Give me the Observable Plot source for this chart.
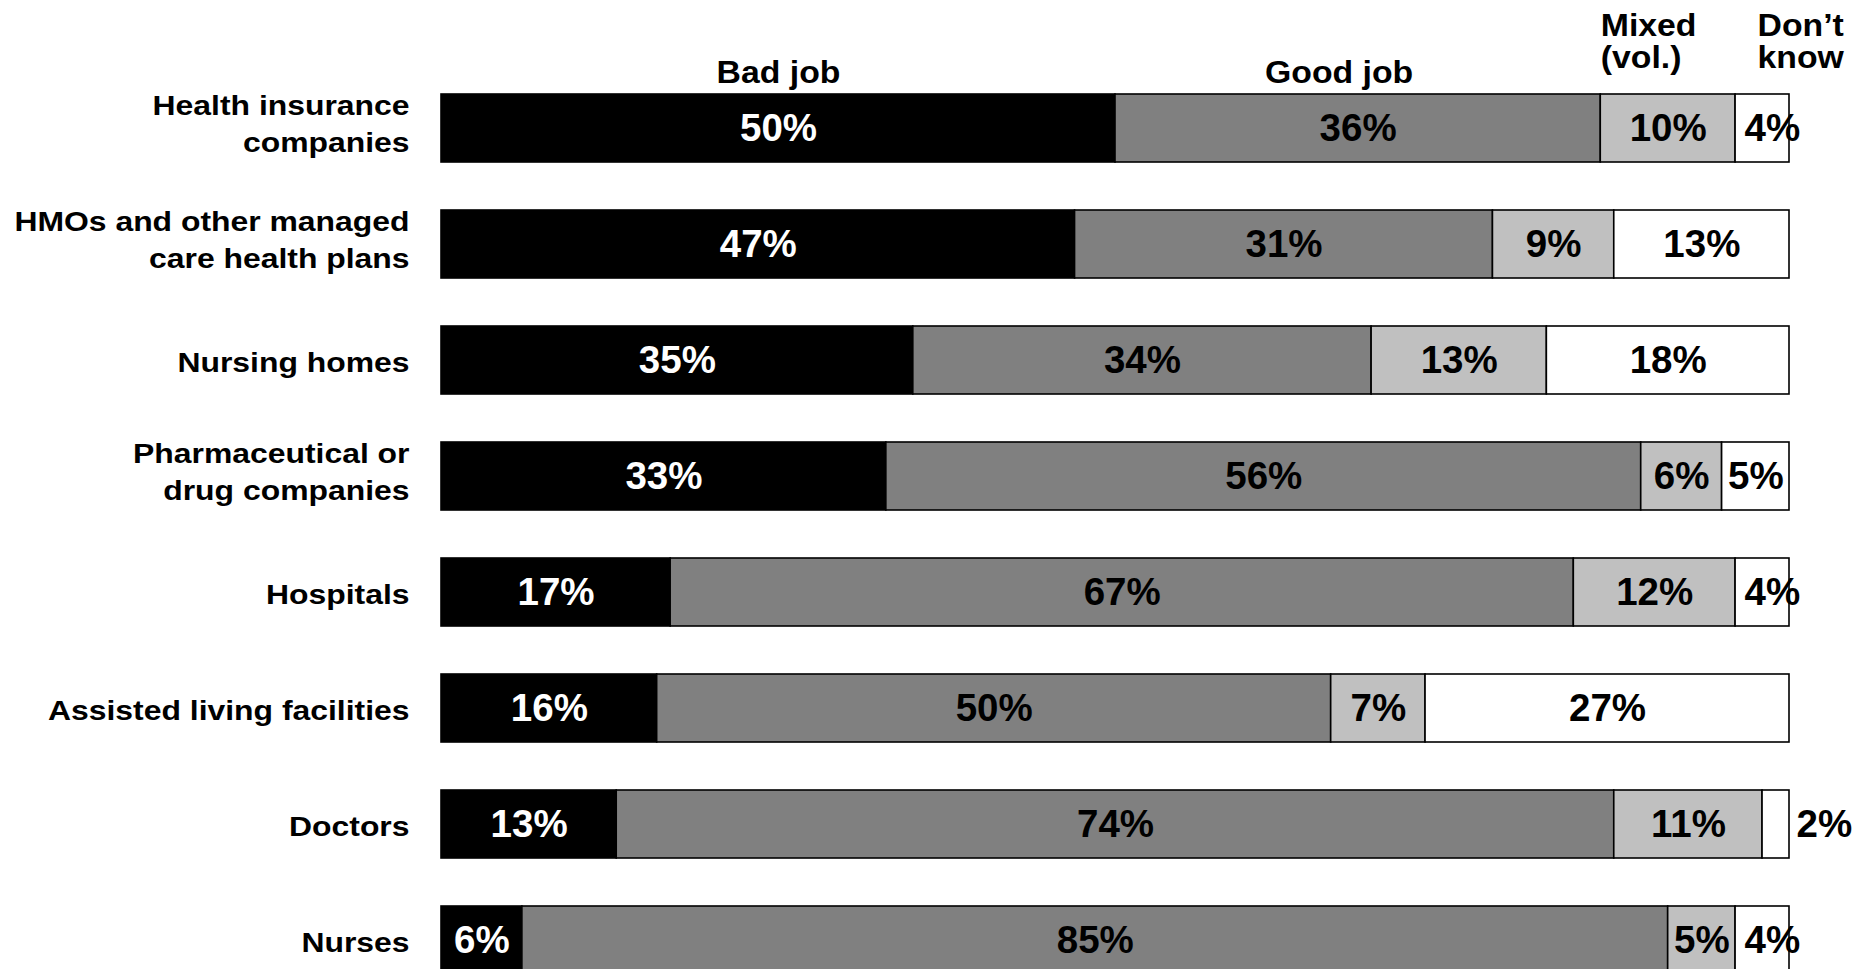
<!DOCTYPE html>
<html>
<head>
<meta charset="utf-8">
<script src="https://cdn.jsdelivr.net/npm/d3@7"></script>
<script src="https://cdn.jsdelivr.net/npm/@observablehq/plot@0.6"></script>
<style>
  html, body { margin: 0; padding: 0; background: #fff; overflow: hidden; }
  #chart svg { display: block; }
</style>
</head>
<body>
<div id="chart"></div>
<script>
// ---- data ----
const categories = [
  "Health insurance\ncompanies",
  "HMOs and other managed\ncare health plans",
  "Nursing homes",
  "Pharmaceutical or\ndrug companies",
  "Hospitals",
  "Assisted living facilities",
  "Doctors",
  "Nurses"
];
const responses = ["Bad job", "Good job", "Mixed\n(vol.)", "Don\u2019t\nknow"];
const badJob   = [50, 47, 35, 33, 17, 16, 13, 6];
const goodJob  = [36, 31, 34, 56, 67, 50, 74, 85];
const mixed    = [10,  9, 13,  6, 12,  7, 11, 5];
const dontKnow = [ 4, 13, 18,  5,  4, 27,  2, 4];
const fills = ["#000000", "#808080", "#c0c0c0", "#ffffff"];

// ---- build stacked table ----
const series = [badJob, goodJob, mixed, dontKnow];
const table = [];
categories.forEach((c, i) => {
  let acc = 0;
  series.forEach((s, j) => {
    const v = s[i];
    table.push({category: c, response: responses[j], ri: j, value: v, x1: acc, x2: acc + v});
    acc += v;
  });
});
const first = table.filter(d => d.category === categories[0]);
const centered = table.filter(d => !(d.ri === 3 && d.value < 5));
const startLabels = table.filter(d => d.ri === 3 && d.value < 5 && d.value > 2);
const outsideLabels = table.filter(d => d.ri === 3 && d.value <= 2);

const font = "'Liberation Sans', Arial, Helvetica, sans-serif";
const multi = categories.filter(c => c.includes("\n"));
const single = categories.filter(c => !c.includes("\n"));
const CAT_FS = 27.5, HEAD_FS = 31;

const chart = Plot.plot({
  width: 1870,
  height: 969,
  marginLeft: 0, marginRight: 0, marginTop: 0, marginBottom: 0,
  style: {fontFamily: font, fontWeight: "bold", background: "#fff", overflow: "visible"},
  x: {domain: [0, 100], range: [441, 1789], axis: null},
  y: {domain: categories, range: [70, 998], padding: 0, axis: null},
  color: {domain: responses, range: fills},
  marks: [
    Plot.barX(table, {x1: "x1", x2: "x2", y: "category", fill: "response", stroke: "#000", strokeWidth: 1.6,
      insetTop: 24, insetBottom: 24}),
    // percent labels centred in segments
    Plot.text(centered, {
      x: d => (d.x1 + d.x2) / 2, y: "category", text: d => d.value + "%",
      fill: d => d.ri === 0 ? "#fff" : "#000", fontSize: 38.5, fontWeight: "bold", dy: 0
    }),
    Plot.text(startLabels, {
      x: "x1", y: "category", text: d => d.value + "%", textAnchor: "start", dx: 9,
      fill: "#000", fontSize: 38.5, fontWeight: "bold", dy: 0
    }),
    Plot.text(outsideLabels, {
      x: "x2", y: "category", text: d => d.value + "%", textAnchor: "start", dx: 7,
      fill: "#000", fontSize: 38.5, fontWeight: "bold", dy: 0
    }),
    // category labels
    Plot.text(single, {
      x: 0, y: d => d, text: d => d, textAnchor: "end", dx: -32, dy: 3,
      fontSize: CAT_FS, fontWeight: "bold", fill: "#000"
    }),
    Plot.text(multi, {
      x: 0, y: d => d, text: d => d, textAnchor: "end", dx: -32, dy: -7, lineHeight: 1.35,
      fontSize: CAT_FS, fontWeight: "bold", fill: "#000"
    }),
    // header labels above first bar
    Plot.text(first.filter(d => d.ri === 0), {
      x: d => (d.x1 + d.x2) / 2, y: "category", text: "response", lineAnchor: "bottom", dy: -46,
      fontSize: HEAD_FS, fontWeight: "bold", fill: "#000"
    }),
    Plot.text(first.filter(d => d.ri === 1), {
      x: d => (d.x1 + d.x2) / 2, y: "category", text: "response", lineAnchor: "bottom", dy: -46, dx: -19,
      fontSize: HEAD_FS, fontWeight: "bold", fill: "#000"
    }),
    Plot.text(first.filter(d => d.ri === 2), {
      x: "x1", y: "category", text: "response", lineAnchor: "bottom", textAnchor: "start", dy: -61, dx: 0,
      lineHeight: 1.03, fontSize: HEAD_FS, fontWeight: "bold", fill: "#000"
    }),
    Plot.text(first.filter(d => d.ri === 3), {
      x: "x1", y: "category", text: "response", lineAnchor: "bottom", textAnchor: "start", dy: -61, dx: 22,
      lineHeight: 1.03, fontSize: HEAD_FS, fontWeight: "bold", fill: "#000"
    })
  ]
});
document.getElementById("chart").appendChild(chart);

// widen the label lettering horizontally (reference text is stretched)
function stretch(sel, s) {
  d3.select(chart).selectAll(sel).each(function () {
    const t = this.getAttribute("transform");
    if (t) {
      this.setAttribute("transform", t + ` scale(${s},1)`);
    } else {
      const x = +this.getAttribute("x") || 0, y = +this.getAttribute("y") || 0;
      this.setAttribute("transform", `translate(${x},${y}) scale(${s},1)`);
      this.removeAttribute("x"); this.removeAttribute("y");
      d3.select(this).selectAll("tspan").each(function () {
        if (this.getAttribute("x") !== null) this.setAttribute("x", 0);
      });
    }
  });
}
stretch(`g[font-size="${CAT_FS}"] text`, 1.16);
stretch(`g[font-size="${HEAD_FS}"] text`, 1.09);
</script>
</body>
</html>
